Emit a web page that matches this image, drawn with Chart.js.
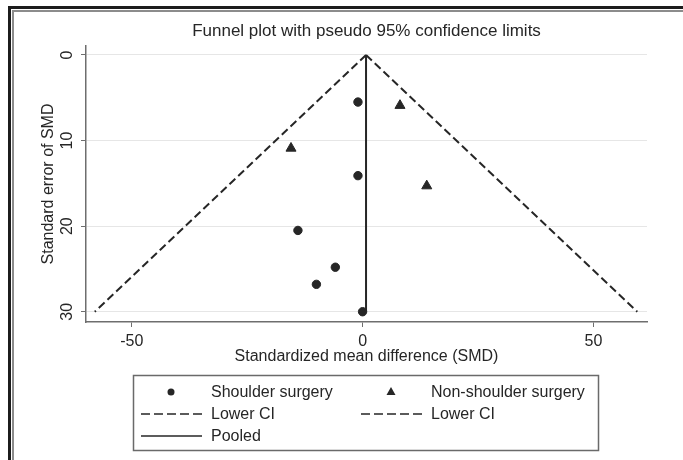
<!DOCTYPE html>
<html>
<head>
<meta charset="utf-8">
<title>Funnel plot</title>
<script src="https://cdn.jsdelivr.net/npm/chart.js@4.4.1/dist/chart.umd.min.js"></script>
<style>
  html, body { margin: 0; padding: 0; background: #fff; }
  #wrap { position: relative; width: 683px; height: 460px; overflow: hidden; }
  .frame-outer { position: absolute; left: 8px; top: 6px; right: -10px; bottom: -10px;
    border-left: 3px solid #1c1c1c; border-top: 3px solid #1c1c1c; }
  .frame-inner { position: absolute; left: 12px; top: 10px; right: -10px; bottom: -10px;
    border-left: 2px solid #8c8c8c; border-top: 2px solid #8c8c8c; }
  canvas { position: absolute; left: 0; top: 0; }
</style>
</head>
<body>
<div id="wrap">
  <div class="frame-outer"></div>
  <div class="frame-inner"></div>
  <canvas id="funnel-chart" width="683" height="460"></canvas>
</div>
<script>
// values
const shoulderSMD = [-1.0, -1.0, -14.0, -5.9, -10.0, 0.0];
const shoulderSE = [5.5, 14.1, 20.5, 24.8, 26.8, 30.0];
const nonShoulderSMD = [8.1, -15.5, 13.9];
const nonShoulderSE = [5.9, 10.9, 15.3];
const pooledSMD = [0.75, 0.75];
const lowerCiSMD = [0.75, -58.0];
const upperCiSMD = [0.75, 59.5];
const lineSE = [0, 30];
const xTicks = [-50, 0, 50];
const yTicks = [0, 10, 20, 30];

const toPoints = (xs, ys) => xs.map((x, i) => ({ x: x, y: ys[i] }));

const FONT = "'Liberation Sans', Arial, sans-serif";
const INK = "#262626";

// y tick labels are rotated in the original, drawn here from the y scale
const rotatedYTicks = {
  id: "rotatedYTicks",
  afterDraw(chart) {
    const ctx = chart.ctx;
    const y = chart.scales.y;
    ctx.save();
    ctx.fillStyle = INK;
    ctx.font = "16px " + FONT;
    ctx.textAlign = "center";
    ctx.textBaseline = "middle";
    yTicks.forEach((v) => {
      ctx.save();
      ctx.translate(y.right - 18, y.getPixelForValue(v));
      ctx.rotate(-Math.PI / 2);
      ctx.fillText(String(v), 0, 0);
      ctx.restore();
    });
    ctx.restore();
  },
};

// two-column boxed legend like the original
const boxLegend = {
  id: "boxLegend",
  afterDraw(chart) {
    const ctx = chart.ctx;
    const sets = chart.data.datasets;
    const cols = [141, 361];
    const rows = [392, 414, 436];
    ctx.save();
    ctx.strokeStyle = "#6a6a6a";
    ctx.lineWidth = 1.5;
    ctx.strokeRect(133.5, 375.5, 465, 75);
    ctx.font = "16px " + FONT;
    ctx.textBaseline = "middle";
    sets.forEach((ds, i) => {
      const cx = cols[i % 2];
      const cy = rows[Math.floor(i / 2)];
      ctx.fillStyle = INK;
      ctx.strokeStyle = INK;
      if (ds.showLine) {
        ctx.lineWidth = 1.6;
        // five full dashes across the sample, as in the original key
        ctx.setLineDash(ds.borderDash ? [9, 4] : []);
        ctx.beginPath();
        ctx.moveTo(cx, cy);
        ctx.lineTo(cx + 61, cy);
        ctx.stroke();
        ctx.setLineDash([]);
      } else if (ds.pointStyle === "triangle") {
        const mx = cx + 30;
        ctx.beginPath();
        ctx.moveTo(mx, cy - 5);
        ctx.lineTo(mx + 4.5, cy + 3);
        ctx.lineTo(mx - 4.5, cy + 3);
        ctx.closePath();
        ctx.fill();
      } else {
        ctx.beginPath();
        ctx.arc(cx + 30, cy, 3.5, 0, Math.PI * 2);
        ctx.fill();
      }
      ctx.fillText(ds.label, cx + 70, cy + 1);
    });
    ctx.restore();
  },
};

document.addEventListener("DOMContentLoaded", () => {
  const ctx = document.getElementById("funnel-chart").getContext("2d");

  const data = {
    datasets: [
      {
        label: "Shoulder surgery",
        data: toPoints(shoulderSMD, shoulderSE),
        pointStyle: "circle",
        pointRadius: 4.2,
        backgroundColor: INK,
        borderColor: INK,
        showLine: false,
      },
      {
        label: "Non-shoulder surgery",
        data: toPoints(nonShoulderSMD, nonShoulderSE),
        pointStyle: "triangle",
        pointRadius: 5.8,
        backgroundColor: INK,
        borderColor: INK,
        showLine: false,
      },
      {
        label: "Lower CI",
        data: toPoints(lowerCiSMD, lineSE),
        showLine: true,
        borderDash: [8, 4],
        borderColor: INK,
        borderWidth: 2,
        pointRadius: 0,
      },
      {
        label: "Lower CI",
        data: toPoints(upperCiSMD, lineSE),
        showLine: true,
        borderDash: [8, 4],
        borderColor: INK,
        borderWidth: 2,
        pointRadius: 0,
      },
      {
        label: "Pooled",
        data: toPoints(pooledSMD, lineSE),
        showLine: true,
        borderColor: INK,
        borderWidth: 2,
        pointRadius: 0,
      },
    ],
  };

  const config = {
    type: "scatter",
    data: data,
    options: {
      responsive: false,
      animation: false,
      layout: {
        padding: { top: 10, left: 14, right: 36, bottom: 88 },
      },
      plugins: {
        legend: { display: false },
        tooltip: { enabled: false },
        title: {
          display: true,
          fullSize: false, // centre over the plot area, as in the original
          text: "Funnel plot with pseudo 95% confidence limits",
          color: INK,
          font: { family: FONT, size: 17, weight: "normal" },
          padding: { top: 11, bottom: 4.6 },
        },
      },
      scales: {
        x: {
          type: "linear",
          min: -59.9,
          max: 61.6,
          afterBuildTicks: (scale) => {
            scale.ticks = xTicks.map((v) => ({ value: v }));
          },
          afterFit: (scale) => {
            scale.height = 50;
          },
          grid: {
            drawOnChartArea: false,
            drawTicks: true,
            tickLength: 5,
            tickColor: "#6e6e6e",
          },
          border: { display: true, color: "#6e6e6e", width: 1.5 },
          ticks: {
            color: INK,
            font: { family: FONT, size: 16 },
            padding: 5,
            maxRotation: 0,
          },
          title: {
            display: true,
            text: "Standardized mean difference (SMD)",
            color: INK,
            font: { family: FONT, size: 16 },
            padding: { top: 0, bottom: 5.5 },
          },
        },
        y: {
          type: "linear",
          reverse: true,
          min: -1.05,
          max: 31.2,
          afterBuildTicks: (scale) => {
            scale.ticks = yTicks.map((v) => ({ value: v }));
          },
          afterFit: (scale) => {
            scale.width = 72;
          },
          grid: {
            color: "#e6e6e6",
            lineWidth: 1,
            drawTicks: true,
            tickLength: 5,
            tickColor: "#6e6e6e",
          },
          border: { display: true, color: "#6e6e6e", width: 1.5 },
          ticks: { display: false },
          title: {
            display: true,
            text: "Standard error of SMD",
            color: INK,
            font: { family: FONT, size: 16 },
            padding: { top: 25, bottom: 0 },
          },
        },
      },
    },
    plugins: [rotatedYTicks, boxLegend],
  };

  new Chart(ctx, config);
});
</script>
</body>
</html>
